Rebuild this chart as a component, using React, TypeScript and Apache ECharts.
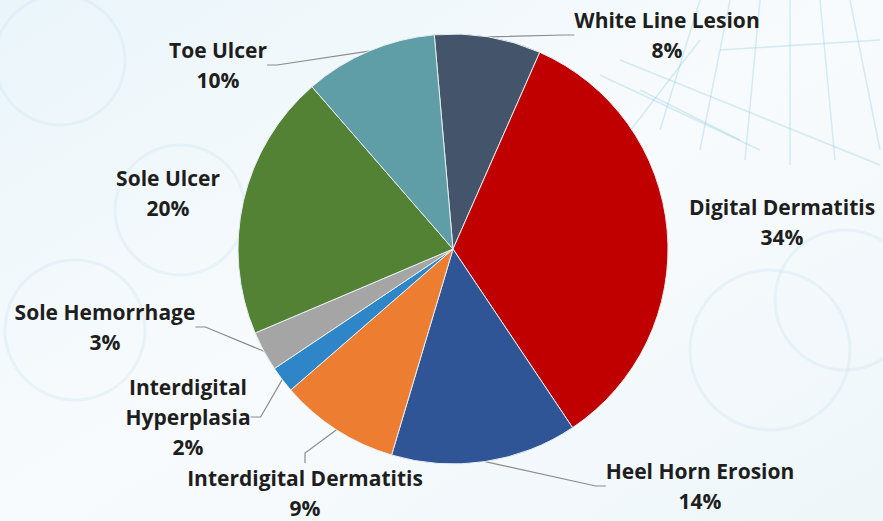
import React, { useEffect, useRef } from "react";
import * as echarts from "echarts";

const categories = [
  "White Line Lesion",
  "Digital Dermatitis",
  "Heel Horn Erosion",
  "Interdigital Dermatitis",
  "Interdigital Hyperplasia",
  "Sole Hemorrhage",
  "Sole Ulcer",
  "Toe Ulcer",
];
const values = [8, 34, 14, 9, 2, 3, 20, 10];
const colors = ["#44546A", "#C00000", "#2F5597", "#ED7D31", "#2E86C8", "#A5A5A5", "#548235", "#5F9EA6"];
// label centre positions (layout, not data)
const labelCenters = [
  [667, 35],
  [782, 222],
  [700, 486],
  [305, 493],
  [188, 417],
  [105, 327],
  [168, 193],
  [218, 65],
];
const noLine = ["Digital Dermatitis", "Sole Ulcer"];

export default function App() {
  const ref = useRef<HTMLDivElement>(null);
  useEffect(() => {
    if (!ref.current) return;
    const chart = echarts.init(ref.current, null, { renderer: "svg" });
    const bg: any[] = [];
    const helix = [
      [700, 0, 660, 130], [730, 0, 700, 150], [760, 0, 745, 160], [790, 0, 790, 165],
      [820, 0, 835, 160], [850, 0, 880, 150], [620, 60, 880, 165], [600, 75, 760, 150],
      [640, 90, 740, 140], [700, 40, 600, 170], [720, 50, 880, 40],
    ];
    helix.forEach((h) => {
      bg.push({
        type: "line",
        shape: { x1: h[0], y1: h[1], x2: h[2], y2: h[3] },
        style: { stroke: "rgba(120,195,215,0.28)", lineWidth: 1.5 },
        silent: true,
        z: -10,
      });
    });
    const circles = [
      [60, 60, 65], [180, 210, 65], [75, 330, 70], [770, 350, 80], [845, 300, 70],
    ];
    circles.forEach((c) => {
      bg.push({
        type: "circle",
        shape: { cx: c[0], cy: c[1], r: c[2] },
        style: { fill: "none", stroke: "rgba(205,230,242,0.35)", lineWidth: 3 },
        silent: true,
        z: -10,
      });
    });
    const option: any = {
      animation: false,
      backgroundColor: new echarts.graphic.LinearGradient(0, 0, 1, 1, [
        { offset: 0, color: "#eaf5fa" },
        { offset: 0.5, color: "#f8fbfd" },
        { offset: 1, color: "#eef6fa" },
      ]),
      graphic: bg,
      series: [
        {
          type: "pie",
          center: [453, 249],
          radius: 215,
          startAngle: 95,
          clockwise: true,
          avoidLabelOverlap: false,
          itemStyle: { borderColor: "#e6eef2", borderWidth: 1 },
          label: {
            show: true,
            position: "outside",
            fontFamily: "Open Sans",
            fontWeight: "bold",
            fontSize: 21,
            lineHeight: 30,
            color: "#1e1e1e",
            align: "center",
            formatter: (p: any) => {
              const name = p.name === "Interdigital Hyperplasia" ? "Interdigital\nHyperplasia" : p.name;
              return name + "\n" + Math.round(p.percent) + "%";
            },
          },
          labelLine: {
            show: true,
            length: 10,
            length2: 10,
            lineStyle: { color: "#8c8c8c", width: 1.2 },
          },
          labelLayout: (params: any) => {
            const c = labelCenters[params.dataIndex];
            return {
              x: c[0],
              y: c[1],
              align: "center",
              verticalAlign: "middle",
            };
          },
          data: categories.map((name, i) => ({
            name,
            value: values[i],
            itemStyle: { color: colors[i] },
            labelLine: { show: !noLine.includes(name) },
          })),
        },
      ],
    };
    chart.setOption(option);
    return () => chart.dispose();
  }, []);
  return (
    <div
      ref={ref}
      style={{ position: "fixed", left: 0, top: 0, width: 883, height: 521 }}
    />
  );
}
